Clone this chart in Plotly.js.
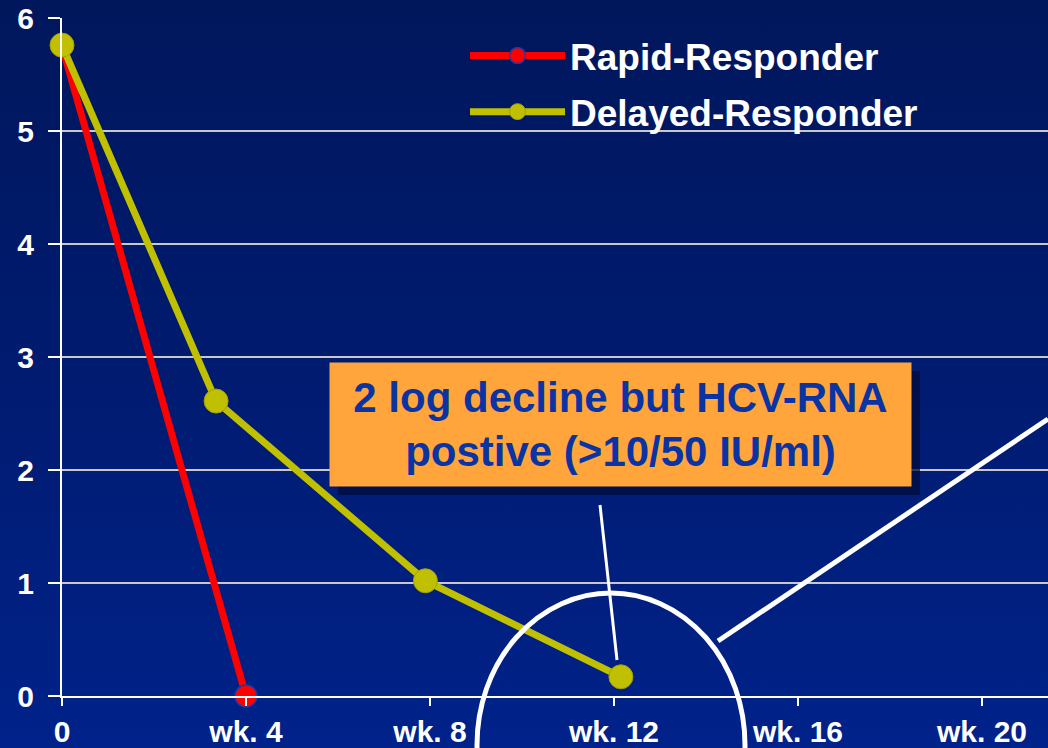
<!DOCTYPE html>
<html>
<head>
<meta charset="utf-8">
<script src="https://cdn.plot.ly/plotly-3.0.1.min.js"></script>
<style>
  html, body { margin: 0; padding: 0; }
  body { width: 1048px; height: 748px; background: linear-gradient(to bottom, #00175c 0%, #001b70 50%, #00228a 100%); overflow: hidden; }
  #chart { width: 1048px; height: 748px; }
</style>
</head>
<body>
<div id="chart"></div>
<script>
// Data
const weekTicks = [0, 4, 8, 12, 16, 20];
const weekTickLabels = ['0', 'wk. 4', 'wk. 8', 'wk. 12', 'wk. 16', 'wk. 20'];

const rapidName = 'Rapid-Responder';
const rapidWeeks = [0, 4];
const rapidLog = [5.75, 0];

const delayedName = 'Delayed-Responder';
const delayedWeeks = [0, 3.35, 7.9, 12.15];
const delayedLog = [5.76, 2.61, 1.02, 0.17];

const calloutText = '2 log decline but HCV-RNA<br>postive (&gt;10/50 IU/ml)';

const W = 1048, H = 748;
const margin = {l: 62, r: 0, t: 18, b: 52};
const plotW = W - margin.l - margin.r;
const plotH = H - margin.t - margin.b;
// helpers to convert pixel layout positions (decorations only) into paper coordinates
const px = x => (x - margin.l) / plotW;
const py = y => (H - margin.b - y) / plotH;

const tickFont = {family: 'Liberation Sans, Arial, sans-serif', size: 30, color: '#ffffff', weight: 'bold'};

const traces = [
  {
    x: rapidWeeks, y: rapidLog, name: rapidName, type: 'scatter', mode: 'lines+markers',
    legendgroup: 'a',
    line: {color: '#ff0000', width: 7},
    marker: {color: '#ff0000', size: 22, line: {color: '#1a3aa8', width: 1.5}},
    cliponaxis: false
  },
  {
    x: delayedWeeks, y: delayedLog, name: delayedName, type: 'scatter', mode: 'lines+markers',
    legendgroup: 'b',
    line: {color: '#c0c000', width: 7},
    marker: {color: '#c0c000', size: 24, line: {color: '#a0a000', width: 1}},
    cliponaxis: false
  }
];

const layout = {
  width: W, height: H,
  margin: margin,
  paper_bgcolor: 'rgba(0,0,0,0)',
  plot_bgcolor: 'rgba(0,0,0,0)',
  showlegend: true,
  legend: {
    x: px(465), y: 1 - (25 - margin.t) / plotH, xanchor: 'left', yanchor: 'top',
    bgcolor: 'rgba(0,0,0,0)', borderwidth: 0,
    font: {family: 'Liberation Sans, Arial, sans-serif', size: 37, color: '#ffffff', weight: 'bold'},
    itemwidth: 95, tracegroupgap: 5
  },
  xaxis: {
    range: [0, plotW / 46],
    tickvals: weekTicks, ticktext: weekTickLabels,
    showgrid: false, zeroline: false,
    showline: true, linecolor: '#ffffff', linewidth: 2,
    ticks: 'outside', ticklen: 8, tickwidth: 2, tickcolor: '#ffffff',
    tickfont: tickFont, ticklabelstandoff: 0
  },
  yaxis: {
    range: [0, 6], dtick: 1, tick0: 0,
    showgrid: true, gridcolor: '#c8c8c8', gridwidth: 2,
    zeroline: false,
    showline: true, linecolor: '#ffffff', linewidth: 2,
    ticks: 'outside', ticklen: 12, tickwidth: 2, tickcolor: '#ffffff',
    tickfont: tickFont, ticklabelstandoff: 8
  },
  shapes: [
    // shadow of callout box
    {type: 'rect', xref: 'paper', yref: 'paper', layer: 'above',
     x0: px(338), x1: px(920), y0: py(495), y1: py(371),
     fillcolor: 'rgba(0,12,60,0.75)', line: {width: 0}},
    // ellipse highlighting week 12
    {type: 'circle', xref: 'paper', yref: 'paper', layer: 'above',
     x0: px(477), x1: px(745), y0: py(897), y1: py(593),
     line: {color: '#ffffff', width: 5}},
    // pointer from callout to week-12 point
    {type: 'line', xref: 'paper', yref: 'paper', layer: 'above',
     x0: px(600), y0: py(505), x1: px(617), y1: py(660),
     line: {color: '#ffffff', width: 3}},
    // diagonal line from ellipse
    {type: 'line', xref: 'paper', yref: 'paper', layer: 'above',
     x0: px(718), y0: py(641), x1: px(1048), y1: py(419),
     line: {color: '#ffffff', width: 5}}
  ],
  annotations: [
    {xref: 'paper', yref: 'paper', x: px(620.5), y: py(424.5),
     xanchor: 'center', yanchor: 'middle',
     text: calloutText, showarrow: false,
     font: {family: 'Liberation Sans, Arial, sans-serif', size: 42, color: '#0a34a4', weight: 'bold'},
     bgcolor: '#ffa53c', width: 581, height: 123, borderpad: 0, align: 'center'}
  ]
};

Plotly.newPlot('chart', traces, layout, {displayModeBar: false, staticPlot: true});
</script>
</body>
</html>
